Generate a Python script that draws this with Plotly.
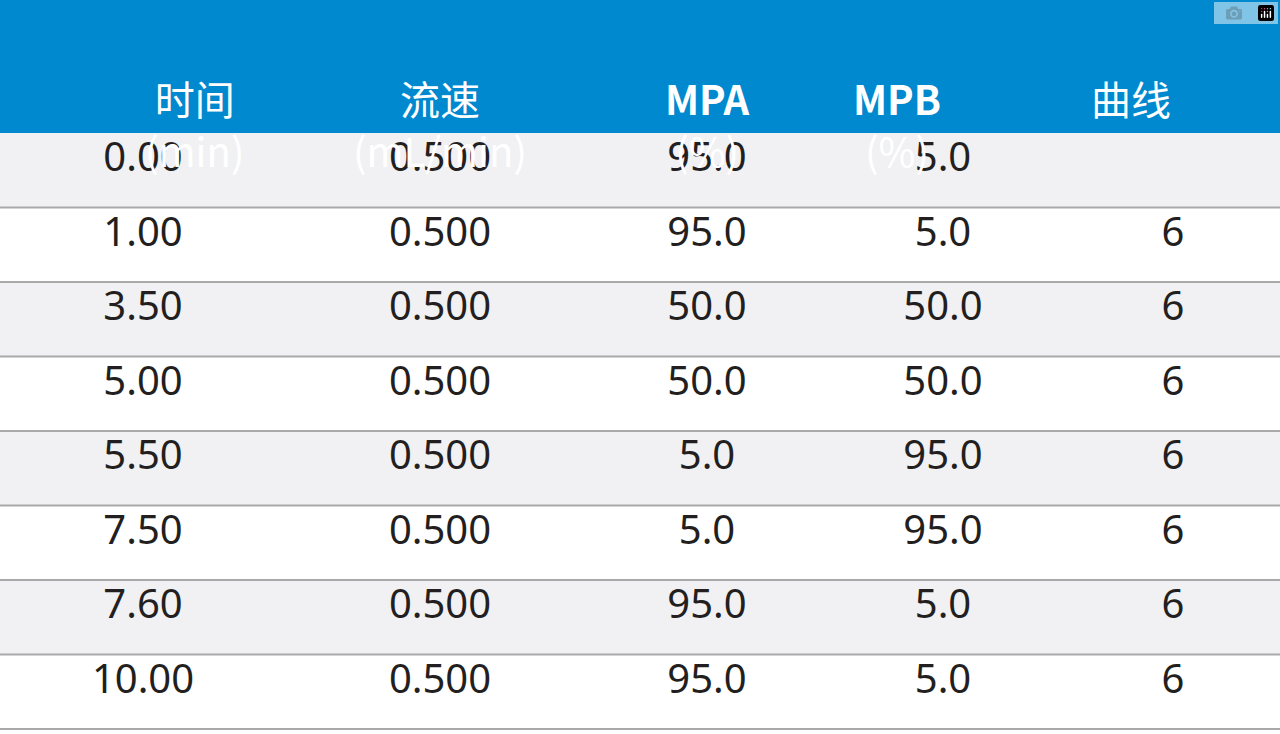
import plotly.graph_objects as go

headers = ["时间<br>(min)", "流速<br>(mL/min)", "<b>MPA</b><br>(%)", "<b>MPB</b><br>(%)", "曲线"]
time_min = ["0.00", "1.00", "3.50", "5.00", "5.50", "7.50", "7.60", "10.00"]
flow = ["0.500"] * 8
mpa = ["95.0", "95.0", "50.0", "50.0", "5.0", "5.0", "95.0", "95.0"]
mpb = ["5.0", "5.0", "50.0", "50.0", "95.0", "95.0", "5.0", "5.0"]
curve = ["", "6", "6", "6", "6", "6", "6", "6"]

W, H = 1280, 734
col_w = [286, 308, 226, 246, 214]
head_h = 133
row_h = 74.5

row_fill = ["#f1f1f4" if i % 2 == 0 else "#ffffff" for i in range(len(time_min))]

fig = go.Figure(go.Table(
    columnwidth=col_w,
    header=dict(values=[""] * len(headers), fill_color="#0089cf",
                line=dict(color="#0089cf", width=0), height=head_h),
    cells=dict(values=[time_min, flow, mpa, mpb, curve],
               fill_color=[row_fill] * 5,
               line=dict(color=[row_fill] * 5, width=0),
               font=dict(family="Noto Sans, sans-serif", size=40, color="#231f20"),
               align="center", height=row_h),
))

# header labels, centred per column
x0 = 0
for h, w in zip(headers, col_w):
    fig.add_annotation(x=(x0 + w / 2) / W, y=1 - head_h / 2 / H, xref="paper", yref="paper",
                       text=h, showarrow=False, align="center",
                       font=dict(family="Noto Sans CJK SC, Noto Sans, sans-serif", size=40, color="white"))
    x0 += w

# horizontal row separators
for k in range(1, len(time_min) + 1):
    y = 1 - (head_h + k * row_h) / H
    fig.add_shape(type="line", xref="paper", yref="paper", x0=0, x1=1, y0=y, y1=y,
                  line=dict(color="#a9a9a9", width=2))

fig.update_layout(width=W, height=H, margin=dict(l=0, r=0, t=0, b=0),
                  paper_bgcolor="white")
fig.write_html("out.html", post_script="document.body.style.margin='0';")
